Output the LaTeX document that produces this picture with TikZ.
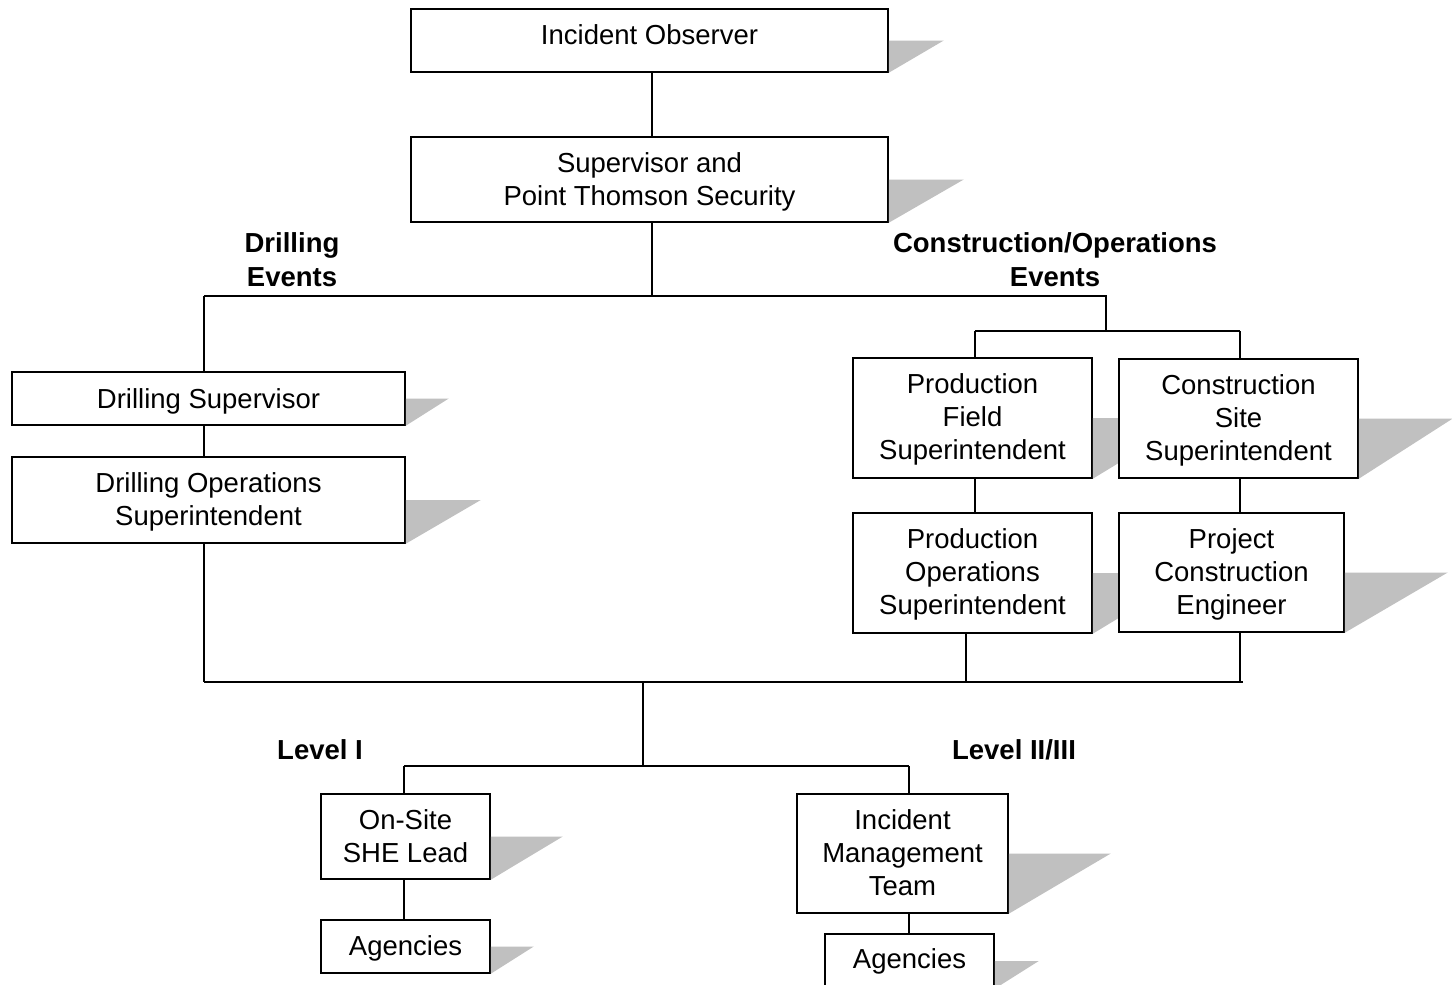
\documentclass[tikz,border=0pt]{standalone}
\usepackage{fontspec}
\setmainfont{Liberation Sans}
\begin{document}
\begin{tikzpicture}[x=1pt,y=-1pt,
  box/.style={draw=black,fill=white,line width=1.5pt,inner sep=0pt},
  boxtext/.style={inner sep=0pt,align=center,font=\fontsize{27.5}{33}\selectfont},
  lbl/.style={inner sep=0pt,align=center,font=\fontsize{27.5}{34}\selectfont\bfseries},
  conn/.style={draw=black,line width=1.5pt},
  shade/.style={fill=shadowgrey}]
\definecolor{shadowgrey}{RGB}{192,192,192}
\clip (0,0) rectangle (1452,985);
\fill[white] (0,0) rectangle (1452,985);
\newcommand{\boxshadow}[2]{\fill[shade] (#1.east) -- ++(#2,0) -- (#1.south east) -- cycle;}
% #1 name, #2 x, #3 y, #4 w, #5 h, #6 text shift (down), #7 text
\newcommand{\boxnode}[7]{%
  \node[box,minimum width=#4pt,minimum height=#5pt] (#1) at (#2,#3) {};
  \node[boxtext] (#1-t) at ([yshift=-#6pt]#1.center) {#7};}
\boxnode{io}{649.5}{40.5}{477}{63}{-6}{Incident Observer}
\boxnode{sup}{649.5}{179.5}{477}{85}{2}{Supervisor and\\Point Thomson Security}
\boxnode{ds}{208.5}{398.5}{393}{53}{2.5}{Drilling Supervisor}
\boxnode{dos}{208.5}{500}{393}{86}{2}{Drilling Operations\\Superintendent}
\boxnode{pfs}{972.5}{418}{239}{120}{1.5}{Production\\Field\\Superintendent}
\boxnode{pos}{972.5}{573}{239}{120}{1.5}{Production\\Operations\\Superintendent}
\boxnode{osl}{405.5}{836.5}{169}{85}{0}{On-Site\\SHE Lead}
\boxnode{agl}{405.5}{946.5}{169}{53}{2}{Agencies}
\boxnode{imt}{902.5}{853.5}{211}{119}{-1}{Incident\\Management\\Team}
\boxnode{agr}{909.5}{961}{169}{54}{0}{Agencies}
% shadows of production boxes go behind construction boxes
\boxshadow{pfs}{100}
\boxshadow{pos}{100}
\boxnode{css}{1238.5}{418.5}{239}{119}{1.5}{Construction\\Site\\Superintendent}
\boxnode{pce}{1231.5}{572.5}{225}{119}{1.5}{Project\\Construction\\Engineer}
\boxshadow{io}{55}
\boxshadow{sup}{75}
\boxshadow{ds}{43}
\boxshadow{dos}{75}
\boxshadow{css}{94}
\boxshadow{pce}{103}
\boxshadow{osl}{72}
\boxshadow{agl}{43}
\boxshadow{imt}{102}
\boxshadow{agr}{44}
% junction coordinates
\coordinate (jt) at (652,296);
\coordinate (jl) at (204,296);
\coordinate (jr) at (1106,296);
\coordinate (jr2) at (1106,331);
\coordinate (jpf) at (975,331);
\coordinate (jcs) at (1240,331);
\coordinate (jb) at (204,682);
\coordinate (jbr) at (1243,682);
\coordinate (jpo) at (966,682);
\coordinate (jpc) at (1240,682);
\coordinate (jm) at (643,682);
\coordinate (jm2) at (643,766);
\coordinate (jll) at (404,766);
\coordinate (jlr) at (909,766);
% connectors
\draw[conn] (io.south -| jt) -- (sup.north -| jt);
\draw[conn] (sup.south -| jt) -- (jt);
\draw[conn] (jl) -- (jr) -- (jr2);
\draw[conn] (jpf) -- (jcs);
\draw[conn] (jpf) -- (pfs.north -| jpf);
\draw[conn] (jcs) -- (css.north -| jcs);
\draw[conn] (jl) -- (ds.north -| jl);
\draw[conn] (ds.south -| jl) -- (dos.north -| jl);
\draw[conn] (dos.south -| jl) -- (jb);
\draw[conn] (pfs.south -| jpf) -- (pos.north -| jpf);
\draw[conn] (css.south -| jcs) -- (pce.north -| jcs);
\draw[conn] (pos.south -| jpo) -- (jpo);
\draw[conn] (pce.south -| jpc) -- (jpc);
\draw[conn] (jb) -- (jbr);
\draw[conn] (jm) -- (jm2);
\draw[conn] (jll) -- (jlr);
\draw[conn] (jll) -- (osl.north -| jll);
\draw[conn] (jlr) -- (imt.north -| jlr);
\draw[conn] (osl.south -| jll) -- (agl.north -| jll);
\draw[conn] (imt.south -| jlr) -- (agr.north -| jlr);
% labels
\node[lbl] (drill) at (292,260) {Drilling\\Events};
\node[lbl] (cons) at (1055,260) {Construction/Operations\\Events};
\node[lbl] (lvla) at (320,750) {Level I};
\node[lbl] (lvlb) at (1014,750) {Level II/III};
\end{tikzpicture}
\end{document}
